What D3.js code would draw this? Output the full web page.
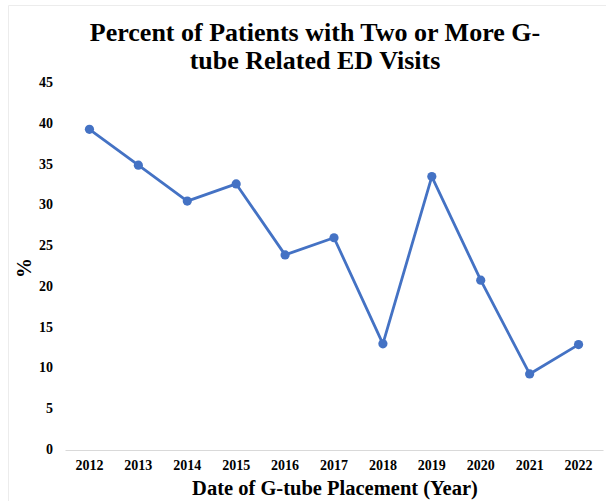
<!DOCTYPE html>
<html>
<head>
<meta charset="utf-8">
<script src="https://cdn.jsdelivr.net/npm/d3@7/dist/d3.min.js"></script>
<style>
  html, body { margin: 0; padding: 0; background: #fff; }
  svg { display: block; }
  text { font-family: "Liberation Serif", "Times New Roman", serif; font-weight: bold; fill: #000; }
</style>
</head>
<body>
<svg id="chart" width="606" height="501"></svg>
<script>
// Placement years and share of patients with 2+ G-tube related ED visits (%)
const years = ["2012", "2013", "2014", "2015", "2016", "2017", "2018", "2019", "2020", "2021", "2022"];
const percentValues = [39.2, 34.8, 30.4, 32.5, 23.8, 25.9, 12.9, 33.4, 20.7, 9.2, 12.8];
const yTicks = [0, 5, 10, 15, 20, 25, 30, 35, 40, 45];
const titleLines = ["Percent of Patients with Two or More G-", "tube Related ED Visits"];
const xTitle = "Date of G-tube Placement (Year)";
const yTitle = "%";

const svg = d3.select("#chart");
const W = 606, H = 501;
const plot = { left: 65, right: 603, top: 82, bottom: 449 };

// faint outer frame of the chart area
svg.append("path")
  .attr("d", `M8.5,${H} V5.5 H${W}`)
  .attr("fill", "none")
  .attr("stroke", "#ececec")
  .attr("stroke-width", 1);

const x = d3.scaleBand().domain(years).range([plot.left, plot.right]);
const y = d3.scaleLinear().domain([0, 45]).range([plot.bottom, plot.top]);

// title
const title = svg.append("text")
  .attr("text-anchor", "middle")
  .style("font-size", "26px");
title.selectAll("tspan").data(titleLines).join("tspan")
  .attr("x", 315)
  .attr("y", (d, i) => 41 + i * 28)
  .text(d => d);

const tickFont = sel => sel
  .style("font-size", "14px")
  .style("font-family", "'Liberation Serif', 'Times New Roman', serif")
  .style("font-weight", "bold")
  .attr("fill", "#000");

// y axis (labels only)
const yAxis = svg.append("g")
  .attr("transform", `translate(${plot.left - 12},0)`)
  .call(d3.axisLeft(y).tickValues(yTicks).tickSize(0).tickPadding(0));
yAxis.select(".domain").remove();
yAxis.selectAll("text").call(tickFont);

// x axis
const xAxis = svg.append("g")
  .attr("transform", `translate(0,${plot.bottom + 1})`)
  .call(d3.axisBottom(x).tickSize(0).tickPadding(10));
xAxis.select(".domain").attr("stroke", "#d9d9d9").attr("stroke-width", 1);
xAxis.selectAll("text").call(tickFont);

// axis titles
svg.append("text")
  .attr("x", 335)
  .attr("y", 495)
  .attr("text-anchor", "middle")
  .style("font-size", "20.5px")
  .text(xTitle);

svg.append("text")
  .attr("transform", `translate(31,268) rotate(-90)`)
  .attr("text-anchor", "middle")
  .style("font-size", "20px")
  .text(yTitle);

// series
const pts = years.map((yr, i) => ({ yr, v: percentValues[i] }));
const cx = d => x(d.yr) + x.bandwidth() / 2;

svg.append("path")
  .datum(pts)
  .attr("fill", "none")
  .attr("stroke", "#4472C4")
  .attr("stroke-width", 2.8)
  .attr("stroke-linejoin", "round")
  .attr("d", d3.line().x(cx).y(d => y(d.v)));

svg.append("g").selectAll("circle").data(pts).join("circle")
  .attr("cx", cx)
  .attr("cy", d => y(d.v))
  .attr("r", 4.6)
  .attr("fill", "#4472C4");
</script>
</body>
</html>
